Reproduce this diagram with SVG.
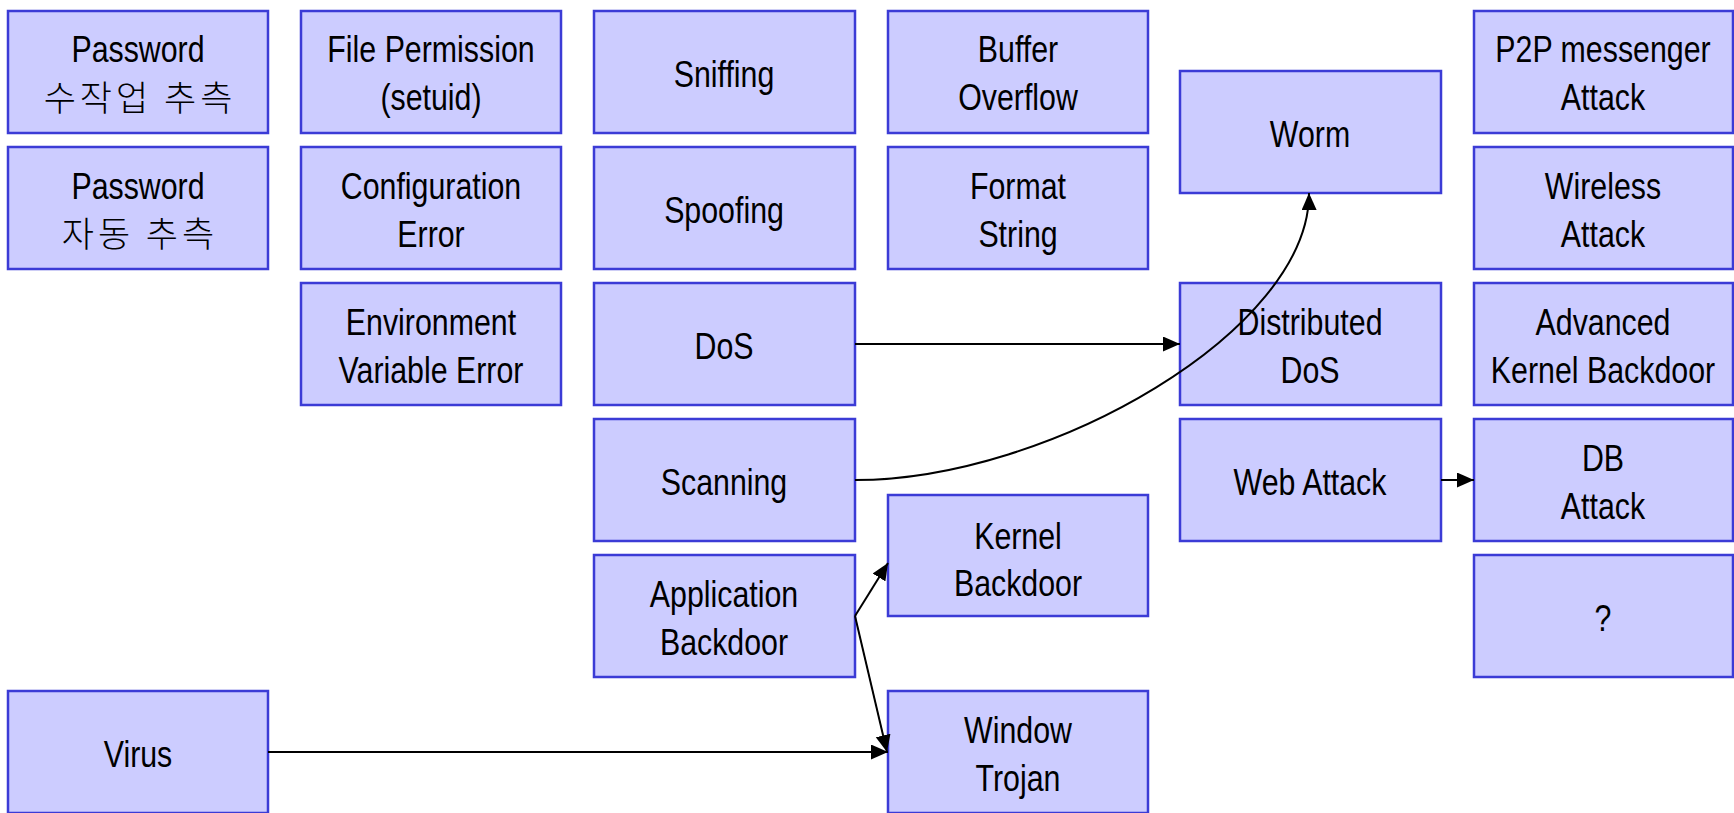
<svg xmlns="http://www.w3.org/2000/svg" width="1734" height="813" viewBox="0 0 1734 813">
  <style>
    .box rect { fill: #ccccff; stroke: #3b3bd6; stroke-width: 2.5; }
    .box text { font-family: "Liberation Sans", Arial, sans-serif; font-size: 37px; fill: #000; text-anchor: middle; }
    .box text.kr { font-family: "Noto Sans CJK KR", sans-serif; font-size: 35px; font-weight: 300; letter-spacing: 4px; }
    .links path { fill: none; stroke: #000; stroke-width: 2; }
  </style>
  <defs>
    <marker id="arrow" markerUnits="userSpaceOnUse" markerWidth="18" markerHeight="16" refX="17" refY="7.5" orient="auto">
      <path d="M0,0 L17,7.5 L0,15 z" fill="#000"/>
    </marker>
  </defs>
  <rect width="1734" height="813" fill="#fff"/>

  <!-- narrow latin labels: each text is placed by translate() and condensed with scale(0.82,1) -->

  <!-- column 1 -->
  <g id="pw-manual" class="box"><rect x="8" y="11" width="260" height="122"/><text transform="translate(138,62) scale(0.82,1)">Password</text><text class="kr" x="140" y="111">수작업 추측</text></g>
  <g id="pw-auto" class="box"><rect x="8" y="147" width="260" height="122"/><text transform="translate(138,199) scale(0.82,1)">Password</text><text class="kr" x="140" y="247">자동 추측</text></g>
  <g id="virus" class="box"><rect x="8" y="691" width="260" height="122"/><text transform="translate(138,767) scale(0.82,1)">Virus</text></g>

  <!-- column 2 -->
  <g id="file-permission" class="box"><rect x="301" y="11" width="260" height="122"/><text transform="translate(431,62) scale(0.82,1)">File Permission</text><text transform="translate(431,110) scale(0.82,1)">(setuid)</text></g>
  <g id="config-error" class="box"><rect x="301" y="147" width="260" height="122"/><text transform="translate(431,199) scale(0.82,1)">Configuration</text><text transform="translate(431,247) scale(0.82,1)">Error</text></g>
  <g id="env-error" class="box"><rect x="301" y="283" width="260" height="122"/><text transform="translate(431,335) scale(0.82,1)">Environment</text><text transform="translate(431,383) scale(0.82,1)">Variable Error</text></g>

  <!-- column 3 -->
  <g id="sniffing" class="box"><rect x="594" y="11" width="261" height="122"/><text transform="translate(724,87) scale(0.82,1)">Sniffing</text></g>
  <g id="spoofing" class="box"><rect x="594" y="147" width="261" height="122"/><text transform="translate(724,223) scale(0.82,1)">Spoofing</text></g>
  <g id="dos" class="box"><rect x="594" y="283" width="261" height="122"/><text transform="translate(724,359) scale(0.82,1)">DoS</text></g>
  <g id="scanning" class="box"><rect x="594" y="419" width="261" height="122"/><text transform="translate(724,495) scale(0.82,1)">Scanning</text></g>
  <g id="app-backdoor" class="box"><rect x="594" y="555" width="261" height="122"/><text transform="translate(724,607) scale(0.82,1)">Application</text><text transform="translate(724,655) scale(0.82,1)">Backdoor</text></g>

  <!-- column 4 -->
  <g id="buffer-overflow" class="box"><rect x="888" y="11" width="260" height="122"/><text transform="translate(1018,62) scale(0.82,1)">Buffer</text><text transform="translate(1018,110) scale(0.82,1)">Overflow</text></g>
  <g id="format-string" class="box"><rect x="888" y="147" width="260" height="122"/><text transform="translate(1018,199) scale(0.82,1)">Format</text><text transform="translate(1018,247) scale(0.82,1)">String</text></g>
  <g id="kernel-backdoor" class="box"><rect x="888" y="495" width="260" height="121"/><text transform="translate(1018,549) scale(0.82,1)">Kernel</text><text transform="translate(1018,596) scale(0.82,1)">Backdoor</text></g>
  <g id="window-trojan" class="box"><rect x="888" y="691" width="260" height="122"/><text transform="translate(1018,743) scale(0.82,1)">Window</text><text transform="translate(1018,791) scale(0.82,1)">Trojan</text></g>

  <!-- column 5 -->
  <g id="worm" class="box"><rect x="1180" y="71" width="261" height="122"/><text transform="translate(1310,147) scale(0.82,1)">Worm</text></g>
  <g id="ddos" class="box"><rect x="1180" y="283" width="261" height="122"/><text transform="translate(1310,335) scale(0.82,1)">Distributed</text><text transform="translate(1310,383) scale(0.82,1)">DoS</text></g>
  <g id="web-attack" class="box"><rect x="1180" y="419" width="261" height="122"/><text transform="translate(1310,495) scale(0.82,1)">Web Attack</text></g>

  <!-- column 6 -->
  <g id="p2p-attack" class="box"><rect x="1474" y="11" width="259" height="122"/><text transform="translate(1603,62) scale(0.82,1)">P2P messenger</text><text transform="translate(1603,110) scale(0.82,1)">Attack</text></g>
  <g id="wireless-attack" class="box"><rect x="1474" y="147" width="259" height="122"/><text transform="translate(1603,199) scale(0.82,1)">Wireless</text><text transform="translate(1603,247) scale(0.82,1)">Attack</text></g>
  <g id="adv-kernel-backdoor" class="box"><rect x="1474" y="283" width="259" height="122"/><text transform="translate(1603,335) scale(0.82,1)">Advanced</text><text transform="translate(1603,383) scale(0.82,1)">Kernel Backdoor</text></g>
  <g id="db-attack" class="box"><rect x="1474" y="419" width="259" height="122"/><text transform="translate(1603,471) scale(0.82,1)">DB</text><text transform="translate(1603,519) scale(0.82,1)">Attack</text></g>
  <g id="unknown" class="box"><rect x="1474" y="555" width="259" height="122"/><text transform="translate(1603,631) scale(0.82,1)">?</text></g>

  <!-- connectors -->
  <g id="connectors" class="links">
    <path d="M855,344 H1180" marker-end="url(#arrow)"/>
    <path d="M855,480 C1050,480 1310,330 1309,193" marker-end="url(#arrow)"/>
    <path d="M1441,480 H1474" marker-end="url(#arrow)"/>
    <path d="M855,616 L888,563" marker-end="url(#arrow)"/>
    <path d="M855,616 L887,752" marker-end="url(#arrow)"/>
    <path d="M268,752 H888" marker-end="url(#arrow)"/>
  </g>
</svg>
